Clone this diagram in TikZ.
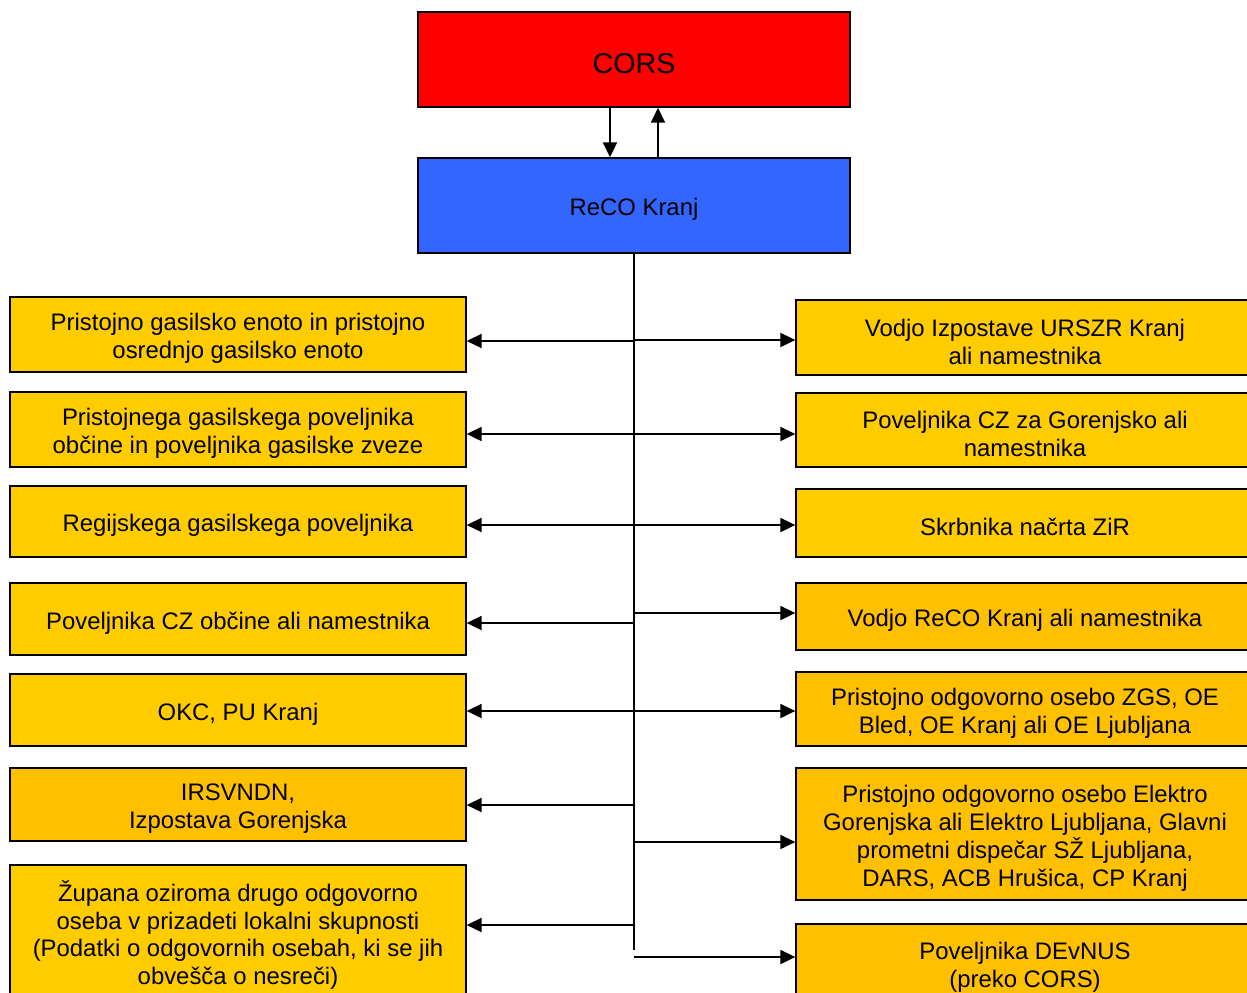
\documentclass[tikz,border=0pt]{standalone}
\usepackage{fontspec}
\setmainfont{Liberation Sans}
\usetikzlibrary{arrows.meta}

\definecolor{corsred}{HTML}{FF0000}
\definecolor{recoblue}{HTML}{3366FF}
\definecolor{gold}{HTML}{FFCC00}
\definecolor{amber}{HTML}{FFC000}

\def\boxfont{\fontsize{13.6}{15.9}\selectfont}
\tikzstyle{words}=[align=center, inner sep=0pt, font=\boxfont, yshift=-0.08cm]
\tikzstyle{unit}=[draw=black, line width=0.8pt, inner sep=0pt]
\tikzstyle{centre}=[unit, minimum width=8.64cm, minimum height=1.9cm]
\tikzstyle{leftbox}=[unit, fill=gold, minimum width=9.12cm]
\tikzstyle{rightbox}=[unit, fill=gold, minimum width=9.16cm]
\tikzstyle{link}=[line width=1.1pt, -{Triangle[length=0.3cm,width=0.28cm]}]

\begin{document}
\begin{tikzpicture}[x=0.02cm, y=-0.02cm] % one unit = one pixel
  \useasboundingbox (0,0) rectangle (1247,992);

  % top pair
  \node [centre, fill=corsred,
    label={[words, font=\fontsize{16.3}{19}\selectfont]center:CORS}] (cors) at (634,59.5) {};
  \node [centre, fill=recoblue, label={[words]center:ReCO Kranj}] (reco) at (634,205.5) {};
  \coordinate (down) at (610,0);
  \coordinate (up) at (658,0);
  \draw [link] (cors.south -| down) -- (reco.north -| down);
  \draw [link] (reco.north -| up) -- (cors.south -| up);

  % left column
  \node [leftbox, minimum height=1.5cm, label={[words]center:
    Pristojno gasilsko enoto in pristojno\\osrednjo gasilsko enoto}] (left1) at (238,334.5) {};
  \node [leftbox, minimum height=1.5cm, label={[words]center:
    Pristojnega gasilskega poveljnika\\občine in poveljnika gasilske zveze}] (left2) at (238,429.5) {};
  \node [leftbox, minimum height=1.42cm, label={[words]center:
    Regijskega gasilskega poveljnika}] (left3) at (238,521.5) {};
  \node [leftbox, minimum height=1.44cm, label={[words]center:
    Poveljnika CZ občine ali namestnika}] (left4) at (238,619) {};
  \node [leftbox, minimum height=1.44cm, label={[words]center:
    OKC, PU Kranj}] (left5) at (238,710) {};
  \node [leftbox, fill=amber, minimum height=1.46cm, label={[words]center:
    IRSVNDN,\\Izpostava Gorenjska}] (left6) at (238,804.5) {};
  \node [leftbox, minimum height=2.64cm, label={[words]center:
    Župana oziroma drugo odgovorno\\oseba v prizadeti lokalni skupnosti\\(Podatki o odgovornih osebah, ki se jih\\obvešča o nesreči)}] (left7) at (238,931) {};

  % right column
  \node [rightbox, minimum height=1.5cm, label={[words]center:
    Vodjo Izpostave URSZR Kranj\\ali namestnika}] (right1) at (1025,337.5) {};
  \node [rightbox, minimum height=1.48cm, label={[words]center:
    Poveljnika CZ za Gorenjsko ali\\namestnika}] (right2) at (1025,430) {};
  \node [rightbox, minimum height=1.36cm, label={[words]center:
    Skrbnika načrta ZiR}] (right3) at (1025,523) {};
  \node [rightbox, fill=amber, minimum height=1.34cm, label={[words]center:
    Vodjo ReCO Kranj ali namestnika}] (right4) at (1025,616.5) {};
  \node [rightbox, fill=amber, minimum height=1.48cm, label={[words]center:
    Pristojno odgovorno osebo ZGS, OE\\Bled, OE Kranj ali OE Ljubljana}] (right5) at (1025,709) {};
  \node [rightbox, fill=amber, minimum height=2.64cm, label={[words]center:
    Pristojno odgovorno osebo Elektro\\Gorenjska ali Elektro Ljubljana, Glavni\\prometni dispečar SŽ Ljubljana,\\DARS, ACB Hrušica, CP Kranj}] (right6) at (1025,834) {};
  \node [rightbox, fill=amber, minimum height=1.56cm, label={[words]center:
    Poveljnika DEvNUS\\(preko CORS)}] (right7) at (1025,963) {};

  % trunk
  \coordinate (trunkend) at (634,950);
  \draw [line width=0.8pt] (reco.south) -- (trunkend);

  % trunk-left connections
  \foreach \n/\y in {1/341, 2/434, 3/525, 4/623, 5/711, 6/805, 7/925}
  {
    \coordinate (tl\n) at (634,\y);
    \draw [link] (tl\n) -- (tl\n -| left\n.east);
  }

  % trunk-right connections
  \foreach \n/\y in {1/340, 2/434, 3/525, 4/613, 5/711, 6/842, 7/957}
  {
    \coordinate (tr\n) at (634,\y);
    \draw [link] (tr\n) -- (tr\n -| right\n.west);
  }
\end{tikzpicture}
\end{document}
